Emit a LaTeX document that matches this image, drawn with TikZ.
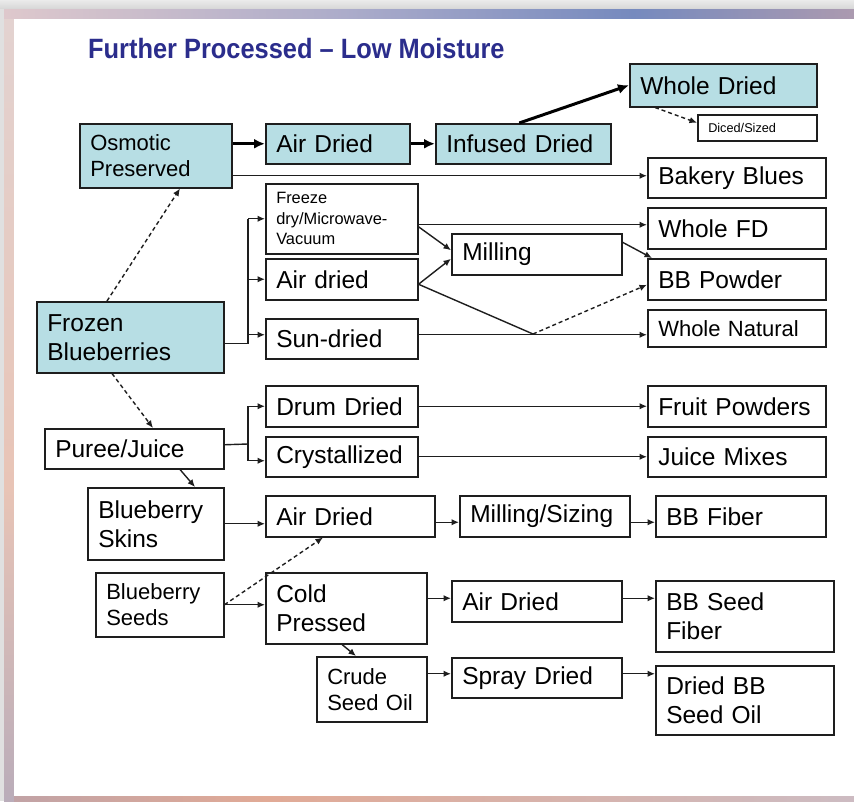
\documentclass[tikz,border=0pt]{standalone}
\usepackage{fontspec}
\usepackage{graphicx}
\setmainfont{Liberation Sans}
\usetikzlibrary{arrows.meta}
\definecolor{cy}{RGB}{183,222,228}
\definecolor{lncol}{RGB}{30,30,30}
\definecolor{ttl}{RGB}{43,45,140}
\definecolor{t0}{RGB}{214,217,230}
\definecolor{t1}{RGB}{222,200,204}
\definecolor{t2}{RGB}{172,172,202}
\definecolor{t3}{RGB}{118,138,190}
\definecolor{t4}{RGB}{192,160,170}
\definecolor{t5}{RGB}{232,172,150}
\definecolor{l0}{RGB}{128,143,190}
\definecolor{l1}{RGB}{232,196,182}
\definecolor{l2}{RGB}{222,222,230}
\definecolor{b0}{RGB}{140,150,192}
\definecolor{b1}{RGB}{225,170,150}
\definecolor{b2}{RGB}{190,200,225}
\pgfdeclarehorizontalshading{topbar}{100bp}{color(0bp)=(t0); color(25bp)=(t1); color(45bp)=(t2); color(62bp)=(t3); color(80bp)=(t4); color(100bp)=(t5)}
\pgfdeclareverticalshading{leftbar}{100bp}{color(0bp)=(l0); color(45bp)=(l1); color(100bp)=(l2)}
\pgfdeclarehorizontalshading{botbar}{100bp}{color(0bp)=(b0); color(40bp)=(b1); color(100bp)=(b2)}
\newcommand\fbig{\fontsize{24.5}{29}\selectfont\hyphenpenalty10000\exhyphenpenalty10000}
\newcommand\fmid{\fontsize{22}{26}\selectfont\hyphenpenalty10000\exhyphenpenalty10000}
\newcommand\fsmall{\fontsize{16.4}{20.5}\selectfont\hyphenpenalty10000\exhyphenpenalty10000}
\newcommand\ftiny{\fontsize{12.7}{15}\selectfont\hyphenpenalty10000\exhyphenpenalty10000}
\tikzset{
  box/.style={draw=lncol, line width=1.5pt, inner xsep=10.5pt, inner ysep=2pt, align=left, fill=white, font=\fbig},
  plain/.style={draw=lncol, line width=1.4pt},
  arr/.style={plain, -{Latex[length=7.5pt,width=6.5pt]}},
  thk/.style={draw=black, line width=3pt, -{Latex[length=11pt,width=10pt]}},
  dsh/.style={arr, dash pattern=on 4pt off 3pt}
}
\newcommand\bx[7][]{%
  \pgfmathsetmacro\bxw{#4-#2}%
  \pgfmathsetmacro\bxh{#5-#3}%
  \pgfmathsetmacro\bxt{#4-#2-21}%
  \node[box,#1,minimum width=\bxw pt,minimum height=\bxh pt,text width=\bxt pt,anchor=north west] (#6) at (#2,#3) {#7};}
\begin{document}
\begin{tikzpicture}[x=1pt,y=-1pt]
\useasboundingbox (0,0) rectangle (854,801);
% slide frame
\shade[top color=white!92!black, bottom color=white!84!black] (0,0) rectangle (854,9);
\fill[white!88!black] (0,9) rectangle (4,801);
\shade[shading=topbar] (4,9) rectangle (854,19);
\shade[shading=leftbar] (4,19) rectangle (14,801);
\shade[shading=botbar] (14,796) rectangle (854,801);
\fill[white] (14,19) rectangle (854,796);
% title
\node[anchor=base west, inner sep=0pt, text=ttl, font=\fontsize{25.4}{30}\selectfont\bfseries] (title) at (88,58) {\scalebox{1}[1.1]{Further Processed – Low Moisture}};
% boxes
\bx[fill=cy,font=\fmid]{79}{123}{231}{187}{osm}{Osmotic\\Preserved}
\bx[fill=cy]{265}{123}{409}{163}{air1}{Air Dried}
\bx[fill=cy]{435}{123}{610}{163}{inf}{Infused Dried}
\bx[fill=cy]{629}{63}{816}{106}{wd}{Whole Dried}
\bx[font=\ftiny]{697}{114}{816}{140}{dic}{Diced/Sized}
\bx{647}{157}{825}{197}{bak}{Bakery Blues}
\bx[font=\fsmall]{265}{183}{417}{253}{frz}{Freeze\\dry/Microwave-\\Vacuum}
\bx{265}{258}{417}{299}{ad}{Air dried}
\bx{265}{318}{417}{358}{sun}{Sun-dried}
\bx{451}{233}{621}{274}{mil}{Milling}
\bx{647}{207}{825}{248}{wfd}{Whole FD}
\bx{647}{258}{825}{299}{bbp}{BB Powder}
\bx[font=\fmid]{647}{309}{825}{346}{wn}{Whole Natural}
\bx[fill=cy]{36}{301}{223}{372}{frozen}{Frozen\\Blueberries}
\bx{44}{428}{223}{468}{pur}{Puree/Juice}
\bx{265}{385}{417}{426}{drum}{Drum Dried}
\bx{265}{436}{417}{476}{cry}{Crystallized}
\bx{647}{385}{825}{426}{fp}{Fruit Powders}
\bx{647}{436}{825}{476}{jm}{Juice Mixes}
\bx{87}{487}{223}{559}{skin}{Blueberry\\Skins}
\bx{265}{495}{434}{536}{air2}{Air Dried}
\bx{459}{495}{629}{536}{msz}{Milling/Sizing}
\bx{655}{495}{825}{536}{bbf}{BB Fiber}
\bx[font=\fmid]{95}{572}{223}{636}{seed}{Blueberry\\Seeds}
\bx{265}{572}{426}{643}{cold}{Cold\\Pressed}
\bx{451}{580}{621}{621}{air3}{Air Dried}
\bx{655}{580}{833}{651}{bbsf}{BB Seed\\Fiber}
\bx[font=\fmid]{316}{656}{426}{721}{crude}{Crude\\Seed Oil}
\bx{451}{657}{621}{697}{spr}{Spray Dried}
\bx{655}{665}{833}{734}{dbb}{Dried BB\\Seed Oil}
% connectors: top row
\draw[thk] (air1.west -| osm.east) -- (air1.west);
\draw[thk] (air1.east) -- (inf.west);
\draw[thk] ([xshift=-4pt]inf.north) -- (wd.west);
\draw[dsh] ([xshift=26pt]wd.south west) -- ([yshift=5pt]dic.west);
\path ([yshift=-20pt]osm.east) coordinate (t1);
\draw[arr] (t1) -- (t1 -| bak.west);
% frozen bracket
\coordinate (fbx) at (248,342);
\draw[plain] ([yshift=-6pt]frozen.east) -| (fbx |- frz.west);
\draw[arr] (fbx |- frz.west) -- (frz.west);
\draw[arr] (fbx |- ad.west) -- (ad.west);
\path ([yshift=4pt]sun.west) coordinate (sw);
\draw[arr] (sw -| fbx) -- (sw);
% drying outputs
\path ([yshift=-6pt]frz.east) coordinate (t2);
\draw[arr] (t2) -- (t2 -| wfd.west);
\draw[arr] ([yshift=-8pt]frz.east) -- ([yshift=4pt]mil.west);
\draw[arr] ([yshift=-5pt]ad.east) -- ([yshift=-4.5pt]mil.west);
\draw[arr] ([yshift=12pt]mil.east) -- ([xshift=5pt]bbp.north west);
\coordinate (jn) at (533,334);
\draw[plain] ([yshift=-5pt]ad.east) -- (jn);
\draw[dsh] (jn) -- ([yshift=-5.5pt]bbp.west);
\path ([yshift=4pt]sun.east) coordinate (t3);
\draw[arr] (t3) -- (t3 -| wn.west);
% dashed from frozen
\draw[dsh] ([xshift=71pt]frozen.north west) -- ([xshift=101pt]osm.south west);
\draw[dsh] ([xshift=76pt]frozen.south west) -- ([xshift=109pt]pur.north west);
% puree bracket
\coordinate (pbx) at (248,444);
\draw[plain] ([yshift=4pt]pur.east) -- (pbx);
\draw[arr] (pbx) |- (drum.west);
\draw[arr] (pbx) |- ([yshift=-4pt]cry.west);
\draw[arr] (drum.east) -- (drum.east -| fp.west);
\draw[arr] (cry.east) -- (cry.east -| jm.west);
\draw[arr] ([xshift=136pt]pur.south west) -- ([xshift=108pt]skin.north west);
% skins
\draw[arr] (skin.east) -- (skin.east -| air2.west);
\path ([yshift=-6pt]air2.east) coordinate (t4);
\draw[arr] (t4) -- (t4 -| msz.west);
\path ([yshift=-6pt]msz.east) coordinate (t5);
\draw[arr] (t5) -- (t5 -| bbf.west);
% seeds
\draw[arr] (seed.east) -- (seed.east -| cold.west);
\draw[dsh] (seed.east) -- ([xshift=58pt]air2.south west);
\path ([yshift=3pt]air3.west) coordinate (t6);
\draw[arr] (t6 -| cold.east) -- (t6);
\path ([yshift=3pt]air3.east) coordinate (t7);
\draw[arr] (t7) -- (t7 -| bbsf.west);
\draw[arr] ([xshift=77pt]cold.south west) -- ([xshift=40pt]crude.north west);
\path ([yshift=4pt]spr.west) coordinate (t8);
\draw[arr] (t8 -| crude.east) -- (t8);
\path ([yshift=4pt]spr.east) coordinate (t9);
\draw[arr] (t9) -- (t9 -| dbb.west);
\end{tikzpicture}
\end{document}
